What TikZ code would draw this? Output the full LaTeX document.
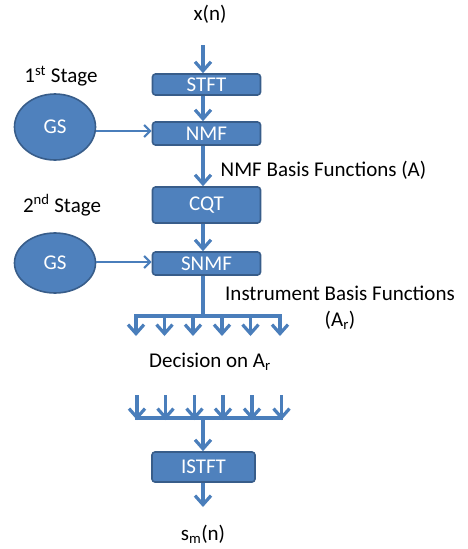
\documentclass[tikz,border=0pt]{standalone}
\usepackage{fontspec}
\setmainfont{Carlito}
\usepackage{tikz}
\usetikzlibrary{arrows.meta}
\usetikzlibrary{calc,positioning}
\usetikzlibrary{shapes.geometric}

\definecolor{boxfill}{HTML}{4F81BD}
\definecolor{boxline}{HTML}{385D8A}
\definecolor{flowcol}{HTML}{4A7EBB}

\tikzset{
    every node/.style={font=\fontsize{21}{25}\selectfont, inner sep=0pt},
    stage/.style={draw=boxline, line width=1.6pt, fill=boxfill, text=white, rounded corners=3pt, minimum width=108pt},
    gsnode/.style={ellipse, draw=boxline, line width=1.6pt, fill=boxfill, text=white, minimum width=81pt, minimum height=66pt},
    flow/.style={draw=flowcol, line width=3.2pt, -{Straight Barb[length=9pt, width=16pt]}},
    thinflow/.style={draw=flowcol, line width=2.2pt, -{Straight Barb[length=6pt, width=12pt]}},
    bar/.style={draw=flowcol, line width=3.2pt}
}

\begin{document}
\begin{tikzpicture}[x=1pt, y=-1pt]
        \useasboundingbox (0,0) rectangle (468,549);

        \node (xn) at (210,14) {x(n)};
        \node (stft) [stage, minimum height=21pt] at (206.5,84.5) {STFT};
        \node (nmf) [stage, minimum height=23pt] at (206.5,133.5) {NMF};
        \node (cqt) [stage, minimum height=36pt] at (206.5,205) {CQT};
        \node (snmf) [stage, minimum height=23pt] at (206.5,263.5) {SNMF};
        \node (istft) [stage, minimum width=103pt, minimum height=30pt] at (203.5,467) {ISTFT};
        \node (sm) at (203,534) {s\textsubscript{m}(n)};

        \node (gs1) [gsnode] at (55,127) {GS};
        \node (gs2) [gsnode, minimum height=60pt] at (55,263) {GS};
        \node (stage1) at (61,76) {1\textsuperscript{st} Stage};
        \node (stage2) at (62,205) {2\textsuperscript{nd} Stage};

        \node (nmfbasis) at (323.5,170) {NMF Basis Functions (A)};
        \node (instr) at (340,293) {Instrument Basis Functions};
        \node (ar) [below=10pt of instr] {(A\textsubscript{r})};
        \node (decision) at (210,362) {Decision on A\textsubscript{r}};

% main chain
\coordinate (in) at (203,45);
\draw [flow] (in) -- (in |- stft.north);

\draw [flow] (in |- stft.south) -- (in |- nmf.north);

\draw [flow] (in |- nmf.south) -- (in |- cqt.north);

\draw [flow] (in |- cqt.south) -- (in |- snmf.north);

\draw [thinflow] (gs1.east |- 0,131) -- (nmf.west |- 0,131);

\draw [thinflow] (gs2.east |- 0,262) -- (snmf.west |- 0,262);

% fan out after SNMF
\coordinate (split) at (203,316);
\coordinate (uend) at (0,336);
\coordinate (u1) at (136,316);
\coordinate (u2) at (164.5,316);
\coordinate (u3) at (193,316);
\coordinate (u4) at (222,316);
\coordinate (u5) at (250.5,316);
\coordinate (u6) at (280,316);
\draw [bar] (in |- snmf.south) -- (split);
\draw [bar] ([xshift=-1.6pt]u1) -- ([xshift=1.6pt]u6);

\draw [flow] (u1) -- (u1 |- uend);
\draw [flow] (u2) -- (u2 |- uend);
\draw [flow] (u3) -- (u3 |- uend);
\draw [flow] (u4) -- (u4 |- uend);
\draw [flow] (u5) -- (u5 |- uend);
\draw [flow] (u6) -- (u6 |- uend);

% gather before ISTFT
\coordinate (merge) at (203,418);
\coordinate (ltop) at (0,395);
\coordinate (l1) at (137,418);
\coordinate (l2) at (165.5,418);
\coordinate (l3) at (194.5,418);
\coordinate (l4) at (223,418);
\coordinate (l5) at (252,418);
\coordinate (l6) at (281.5,418);
\draw [bar] ([xshift=-1.6pt]l1) -- ([xshift=1.6pt]l6);

\draw [flow] (l1 |- ltop) -- ([yshift=-2pt]l1);
\draw [flow] (l2 |- ltop) -- ([yshift=-2pt]l2);
\draw [flow] (l3 |- ltop) -- ([yshift=-2pt]l3);
\draw [flow] (l4 |- ltop) -- ([yshift=-2pt]l4);
\draw [flow] (l5 |- ltop) -- ([yshift=-2pt]l5);
\draw [flow] (l6 |- ltop) -- ([yshift=-2pt]l6);

\draw [flow] (merge) -- (merge |- istft.north);

\coordinate (out) at (203,507);
\draw [flow] (merge |- istft.south) -- (out);
    \end{tikzpicture}
\end{document}
